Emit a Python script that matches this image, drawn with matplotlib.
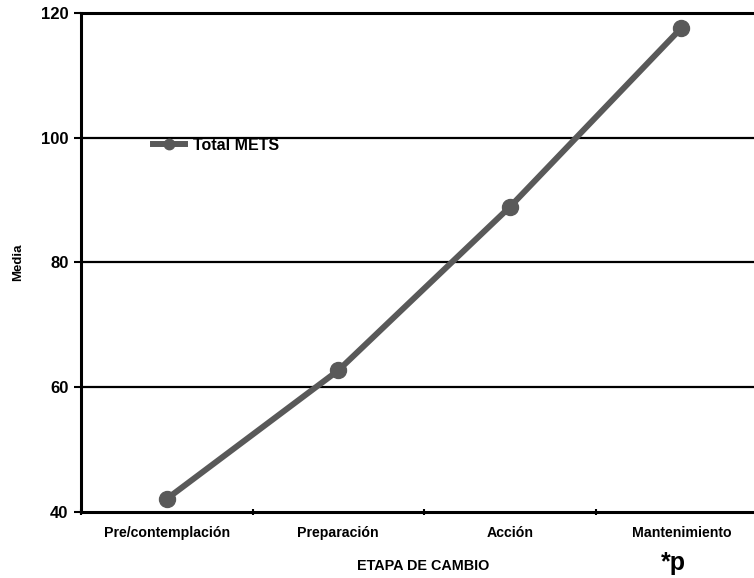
import matplotlib
matplotlib.use('Agg')
import matplotlib.pyplot as plt

etapas = ['Pre/contemplación', 'Preparación', 'Acción', 'Mantenimiento']
total_mets = [42.1, 62.7, 88.9, 117.6]
y_ticks = [40, 60, 80, 100, 120]

plt.rcParams['font.family'] = ['Liberation Sans', 'DejaVu Sans']
plt.rcParams['font.weight'] = 'bold'

fig = plt.figure(figsize=(7.54, 5.78), dpi=100)
ax = fig.add_axes([0.1074, 0.1142, 0.910, 0.8633])

x = range(len(etapas))
ax.plot(x, total_mets, color='#595959', linewidth=4.3, marker='o',
        markersize=11.5, label='Total METS', zorder=3)

for v in y_ticks[1:-1]:
    ax.axhline(v, color='black', linewidth=1.6, zorder=1)

ax.set_xlim(-0.5, 3.5)
ax.set_ylim(40, 120)
ax.set_yticks(y_ticks)
ax.set_xticks([i + 0.5 for i in range(-1, 4)])
ax.set_xticklabels([])
ax.set_xticks(list(x), minor=True)
ax.set_xticklabels(etapas, minor=True, fontsize=10.2, fontweight='bold')
ax.tick_params(axis='x', which='minor', length=0, pad=10)
ax.tick_params(axis='x', which='major', length=4, width=1.5, direction='inout')
ax.tick_params(axis='y', length=5, width=1.5, labelsize=12, pad=4)
for lab in ax.get_yticklabels():
    lab.set_fontweight('bold')

ax.spines['right'].set_visible(False)
for s in ['left', 'bottom', 'top']:
    ax.spines[s].set_linewidth(2.2)

ax.set_ylabel('Media', fontsize=9.5, fontweight='bold', labelpad=12)
fig.text(423 / 754, 1 - 566 / 578, 'ETAPA DE CAMBIO', fontsize=10.4,
         fontweight='bold', ha='center', va='center')
fig.text(673 / 754, 1 - 563 / 578, '*p', fontsize=18, ha='center', va='center')

leg = ax.legend(loc='center left', bbox_to_anchor=(0.105, 0.735), frameon=False,
                handlelength=2.0, handletextpad=0.5, borderpad=0, borderaxespad=0,
                prop={'weight': 'bold', 'size': 11.5})
leg.legend_handles[0].set_markersize(7.5)

fig.savefig('out.png', dpi=100)
